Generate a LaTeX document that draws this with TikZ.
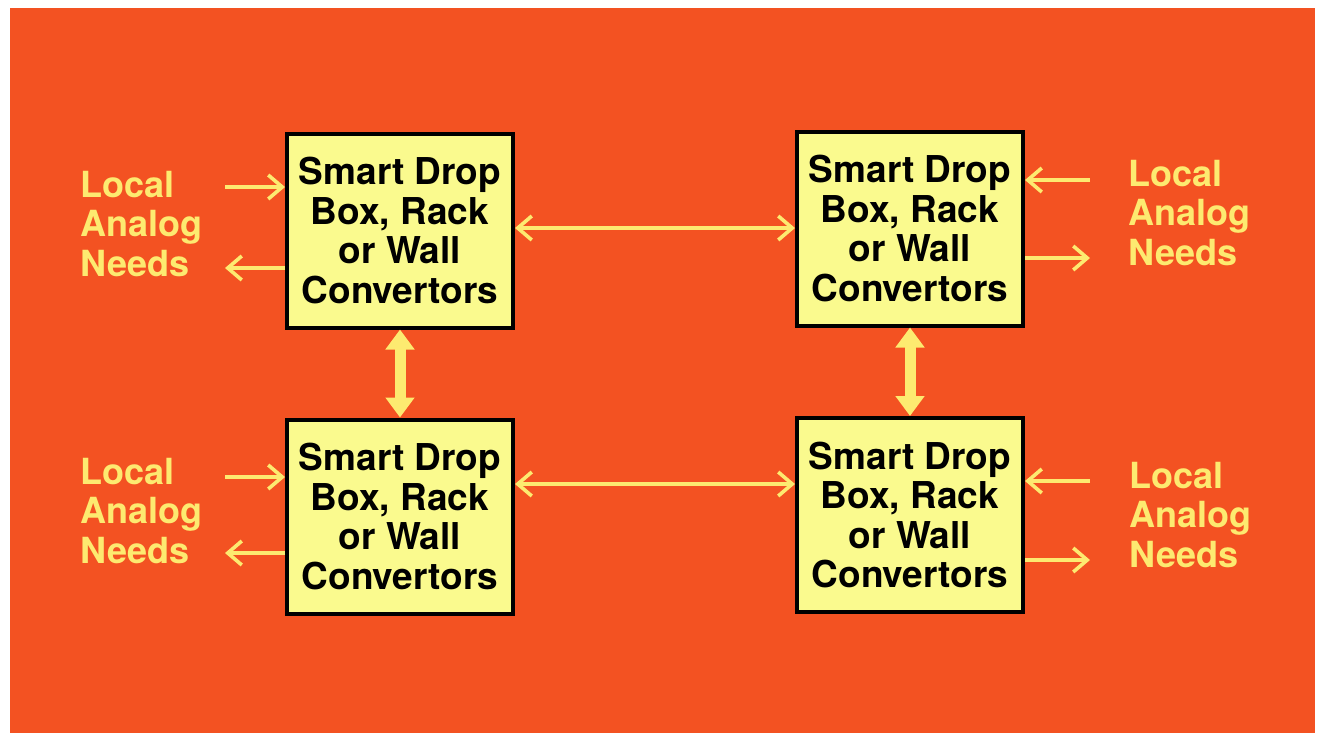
\documentclass[tikz,border=0pt]{standalone}
\usepackage{fontspec}
\setmainfont{TeX Gyre Heros}
\usetikzlibrary{arrows.meta}
\definecolor{bgred}{RGB}{243,82,34}
\definecolor{boxyellow}{RGB}{250,250,142}
\definecolor{sigyellow}{RGB}{253,234,112}
\tikzset{
  conv/.style={draw=black, line width=2pt, fill=boxyellow, align=center,
    minimum width=113pt, minimum height=97pt, inner sep=0pt,
    font=\bfseries\fontsize{18.5}{19.8}\selectfont},
  needs/.style={text=sigyellow, align=left, anchor=west, inner sep=0pt,
    font=\bfseries\fontsize{18}{19.8}\selectfont},
  barb/.tip={Straight Barb[length=7pt,width=12pt,line width=1.8pt]},
  sig/.style={draw=sigyellow, line width=1.8pt, -barb},
  link/.style={sig, barb-barb},
  trunk/.style={draw=sigyellow, line width=5.5pt,
    {Triangle[length=10pt,width=14pt]}-{Triangle[length=10pt,width=14pt]}}
}
\begin{document}
\begin{tikzpicture}[x=0.5pt, y=-0.5pt]
  % page and backdrop
  \fill[white] (0,0) rectangle (1323,736);
  \fill[bgred] (10,8) rectangle (1315,733);

  % the four convertor boxes
  \node[conv] (tl) at (400,230.5) {Smart Drop\\Box, Rack\\or Wall\\Convertors};
  \node[conv] (tr) at (910,228.5) {Smart Drop\\Box, Rack\\or Wall\\Convertors};
  \node[conv] (bl) at (400,516.5) {Smart Drop\\Box, Rack\\or Wall\\Convertors};
  \node[conv] (br) at (910,515) {Smart Drop\\Box, Rack\\or Wall\\Convertors};

  % local analog needs
  \node[needs] (ntl) at (80,224) {Local\\Analog\\Needs};
  \node[needs] (ntr) at (1128,213) {Local\\Analog\\Needs};
  \node[needs] (nbl) at (80,511) {Local\\Analog\\Needs};
  \node[needs] (nbr) at (1129,515) {Local\\Analog\\Needs};

  % free ends of the short arrows
  \coordinate (itl) at (225,187);
  \coordinate (otl) at (225,268);
  \coordinate (itr) at (1090,180);
  \coordinate (otr) at (1090,258);
  \coordinate (ibl) at (225,477);
  \coordinate (obl) at (225,553);
  \coordinate (ibr) at (1090,481);
  \coordinate (obr) at (1090,560);

  \draw[sig] (itl) -- (itl -| tl.west);
  \draw[sig] (otl -| tl.west) -- (otl);
  \draw[sig] (itr) -- (itr -| tr.east);
  \draw[sig] (otr -| tr.east) -- (otr);
  \draw[sig] (ibl) -- (ibl -| bl.west);
  \draw[sig] (obl -| bl.west) -- (obl);
  \draw[sig] (ibr) -- (ibr -| br.east);
  \draw[sig] (obr -| br.east) -- (obr);

  % links between boxes
  \draw[link] (tl.east |- 0,228) -- (tr.west |- 0,228);
  \draw[link] (bl.east |- 0,484) -- (br.west |- 0,484);
  \draw[trunk] (tl.south) -- (bl.north);
  \draw[trunk] (tr.south) -- (br.north);
\end{tikzpicture}
\end{document}
